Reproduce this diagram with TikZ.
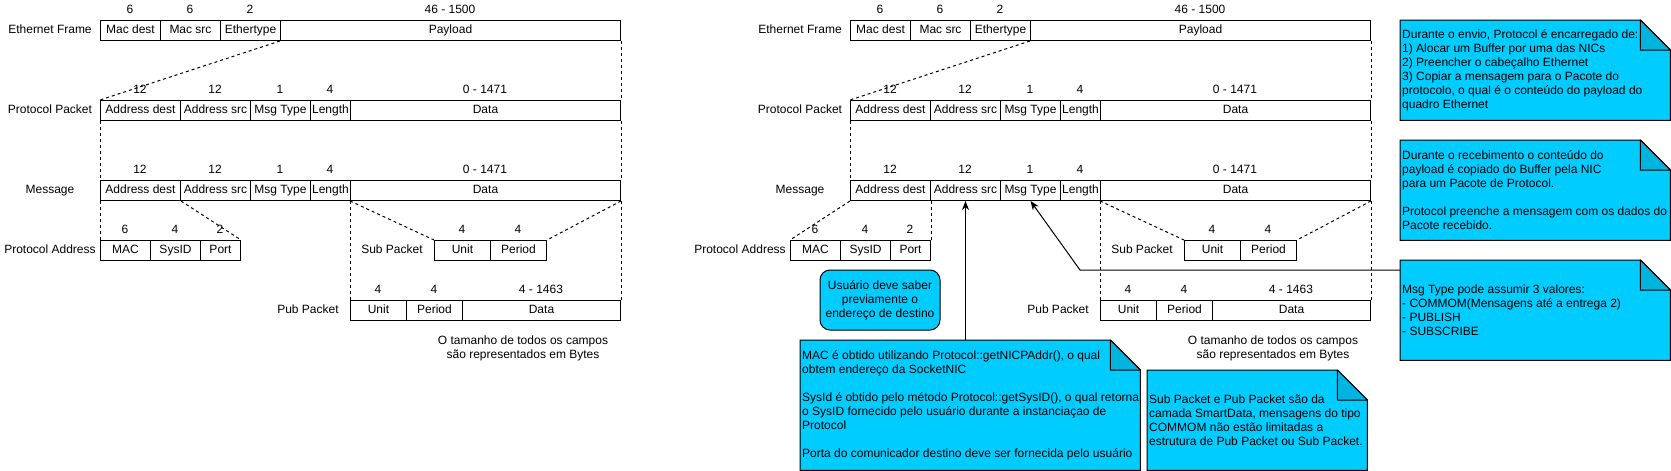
\documentclass[tikz,border=0pt]{standalone}
\usepackage{fontspec}
\setmainfont{Liberation Sans}
\usetikzlibrary{arrows.meta,backgrounds}
\definecolor{notecyan}{HTML}{00CCFF}
\definecolor{notefold}{HTML}{00B4E0}
\newcommand\fieldcell[6]{%
  \node[cell, minimum width=#4] (#1) at (#2,#3) {#5};
  \node[num] (#1n) at ({#2+#4/2},{#3-10}) {#6};
}
\newcommand\notebox[6]{%
  \node[notebody, minimum width=#4, minimum height=#5] (#1) at (#2,#3) {};
  \node[notetext] (#1t) at ([xshift=2pt]#1.west) {#6};
  \begin{pgfonlayer}{background}
    \filldraw[notefill] (#1.north west) -- ([xshift=-30pt]#1.north east) -- ([yshift=-30pt]#1.north east) -- (#1.south east) -- (#1.south west) -- cycle;
    \filldraw[foldfill] ([xshift=-30pt]#1.north east) -- ([xshift=-30pt,yshift=-30pt]#1.north east) -- ([yshift=-30pt]#1.north east) -- cycle;
  \end{pgfonlayer}
}
\newcommand\packetside[1]{%
  \node[lbl] (#1efl) at (50,30) {Ethernet Frame};
  \fieldcell{#1md}{100}{20}{60}{Mac dest}{6}
  \fieldcell{#1ms}{160}{20}{60}{Mac src}{6}
  \fieldcell{#1et}{220}{20}{60}{Ethertype}{2}
  \fieldcell{#1pl}{280}{20}{340}{Payload}{46 - 1500}
  \node[lbl] (#1ppl) at (50,110) {Protocol Packet};
  \fieldcell{#1pad}{100}{100}{80}{Address dest}{12}
  \fieldcell{#1pas}{180}{100}{70}{Address src}{12}
  \fieldcell{#1pmt}{250}{100}{60}{Msg Type}{1}
  \fieldcell{#1plen}{310}{100}{40}{Length}{4}
  \fieldcell{#1pdata}{350}{100}{270}{Data}{0 - 1471}
  \node[lbl] (#1msl) at (50,190) {Message};
  \fieldcell{#1mad}{100}{180}{80}{Address dest}{12}
  \fieldcell{#1mas}{180}{180}{70}{Address src}{12}
  \fieldcell{#1mmt}{250}{180}{60}{Msg Type}{1}
  \fieldcell{#1mlen}{310}{180}{40}{Length}{4}
  \fieldcell{#1mdata}{350}{180}{270}{Data}{0 - 1471}
  \node[lbl] (#1spl) at (392,250) {Sub Packet};
  \fieldcell{#1su}{434}{240}{56}{Unit}{4}
  \fieldcell{#1sp}{490}{240}{56}{Period}{4}
  \node[lbl] (#1bpl) at (308,310) {Pub Packet};
  \fieldcell{#1bu}{350}{300}{56}{Unit}{4}
  \fieldcell{#1bp}{406}{300}{56}{Period}{4}
  \fieldcell{#1bd}{462}{300}{158}{Data}{4 - 1463}
  \node[sizetext] (#1size) at (523,348) {O tamanho de todos os campos\\são representados em Bytes};
  \draw[dsh] (#1pl.south west) -- (#1pad.north west);
  \draw[dsh] (#1pl.south east) -- (#1pdata.north east);
  \draw[dsh] (#1pad.south west) -- (#1mad.north west);
  \draw[dsh] (#1pdata.south east) -- (#1mdata.north east);
  \draw[dsh] (#1mdata.south west) -- (#1su.north west);
  \draw[dsh] (#1mdata.south east) -- (#1sp.north east);
  \draw[dsh] (#1mdata.south west) -- (#1bu.north west);
  \draw[dsh] (#1mdata.south east) -- (#1bd.north east);
}
\begin{document}
\begin{tikzpicture}[x=1pt,y=-1pt,
  every node/.style={font=\fontsize{12}{14}\selectfont},
  txt/.style={text height=8.5pt, text depth=2.5pt},
  cell/.style={txt, draw, line width=1pt, inner sep=0pt, minimum height=20pt, anchor=north west},
  num/.style={txt, inner sep=0pt},
  lbl/.style={txt, inner sep=0pt},
  sizetext/.style={inner sep=0pt, align=center},
  dsh/.style={line width=1pt, dash pattern=on 3pt off 3pt},
  arr/.style={line width=1pt, -{Stealth[length=9pt,width=7pt]}},
  notebody/.style={inner sep=0pt, anchor=north west},
  notetext/.style={inner sep=0pt, align=left, anchor=west},
  notefill/.style={fill=notecyan, draw=black, line width=1pt},
  foldfill/.style={fill=notefold, draw=black, line width=1pt, line join=round},
  roundbox/.style={draw, line width=1pt, fill=notecyan, rounded corners=10pt, align=center, minimum width=120pt, minimum height=60pt, inner sep=0pt}]
\useasboundingbox (0,0) rectangle (1671,471);

% left side
\packetside{L}
\node[lbl] (Lpal) at (50,250) {Protocol Address};
\fieldcell{Lmac}{100}{240}{50}{MAC}{6}
\fieldcell{Lsys}{150}{240}{50}{SysID}{4}
\fieldcell{Lport}{200}{240}{40}{Port}{2}
\draw[dsh] (Lmad.south west) -- (Lmac.north west);
\draw[dsh] (Lmad.south east) -- (Lport.north east);

% right side
\begin{scope}[xshift=750pt]
\packetside{R}
\end{scope}
\node[lbl] (Rpal) at (740,250) {Protocol Address};
\fieldcell{Rmac}{790}{240}{50}{MAC}{6}
\fieldcell{Rsys}{840}{240}{50}{SysID}{4}
\fieldcell{Rport}{890}{240}{40}{Port}{2}
\draw[dsh] (Rmad.south west) -- (Rmac.north west);
\draw[dsh] (Rmad.south east) -- (Rport.north east);

\node[roundbox] (user) at (880,300) {Usuário deve saber\\previamente o\\endereço de destino};

\notebox{note1}{1400}{20}{270pt}{100pt}{Durante o envio, Protocol é encarregado de:\\1) Alocar um Buffer por uma das NICs\\2) Preencher o cabeçalho Ethernet\\3) Copiar a mensagem para o Pacote do\\protocolo, o qual é o conteúdo do payload do\\quadro Ethernet}
\notebox{note2}{1400}{140}{270pt}{100pt}{Durante o recebimento o conteúdo do\\payload é copiado do Buffer pela NIC\\para um Pacote de Protocol.\\[14pt]Protocol preenche a mensagem com os dados do\\Pacote recebido.}
\notebox{note3}{1400}{260}{270pt}{100pt}{Msg Type pode assumir 3 valores:\\- COMMOM(Mensagens até a entrega 2)\\- PUBLISH\\- SUBSCRIBE}
\notebox{macnote}{800}{340}{340pt}{130pt}{MAC é obtido utilizando Protocol::getNICPAddr(), o qual\\obtem endereço da SocketNIC\\[14pt]SysId é obtido pelo método Protocol::getSysID(), o qual retorna\\o SysID fornecido pelo usuário durante a instanciaçao de\\Protocol\\[14pt]Porta do comunicador destino deve ser fornecida pelo usuário}
\notebox{subnote}{1147}{370}{220pt}{100pt}{Sub Packet e Pub Packet são da\\camada SmartData, mensagens do tipo\\COMMOM não estão limitadas a\\estrutura de Pub Packet ou Sub Packet.}

\coordinate (bend) at (1080,270);
\draw[arr] (note3.north west |- bend) -- (bend) -- (Rmmt.south);
\draw[arr] (macnote.north -| Rmas.south) -- (Rmas.south);
\end{tikzpicture}
\end{document}
